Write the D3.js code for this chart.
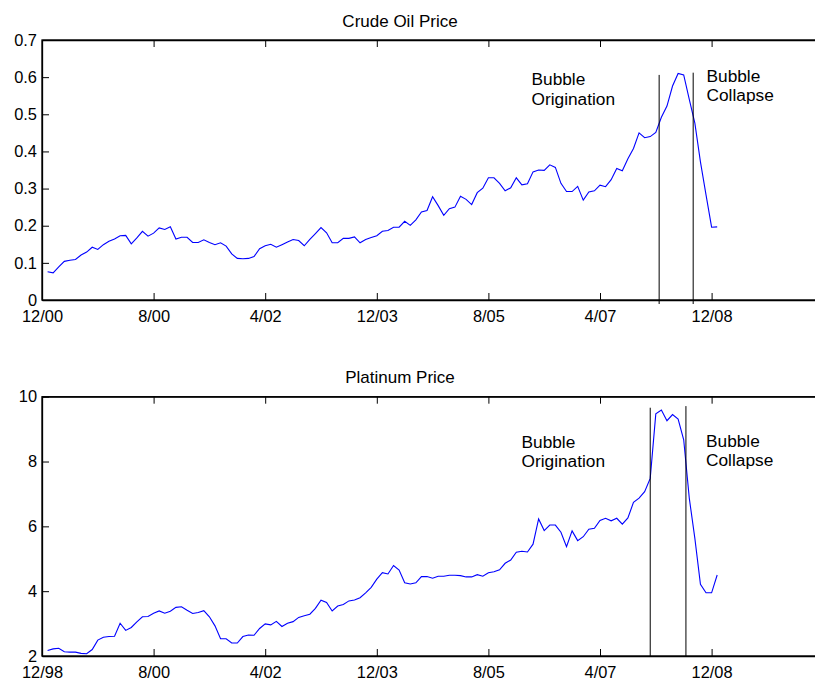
<!DOCTYPE html>
<html>
<head>
<meta charset="utf-8">
<script src="https://cdn.jsdelivr.net/npm/d3@7"></script>
<style>
  html, body { margin: 0; padding: 0; background: #fff; }
  svg { display: block; font-family: "Liberation Sans", Arial, Helvetica, sans-serif; }
</style>
</head>
<body>
<svg id="chart" width="815" height="680"></svg>
<script>
// ---- data (monthly, index 0 = first tick month) ----
const months = d3.range(1, 122); // months 1..121 after first tick

const oilValues = [
  0.076, 0.073, 0.089, 0.104, 0.107, 0.109, 0.121, 0.129, 0.142, 0.136,
  0.149, 0.158, 0.164, 0.173, 0.174, 0.151, 0.167, 0.185, 0.172, 0.180,
  0.194, 0.190, 0.197, 0.164, 0.169, 0.169, 0.155, 0.155, 0.162, 0.155,
  0.149, 0.154, 0.145, 0.124, 0.112, 0.111, 0.112, 0.117, 0.138, 0.146,
  0.150, 0.142, 0.149, 0.156, 0.163, 0.160, 0.146, 0.163, 0.179, 0.195,
  0.181, 0.154, 0.154, 0.166, 0.166, 0.170, 0.154, 0.163, 0.168, 0.173,
  0.185, 0.187, 0.196, 0.196, 0.212, 0.201, 0.216, 0.237, 0.241, 0.278,
  0.254, 0.228, 0.246, 0.250, 0.279, 0.271, 0.257, 0.289, 0.301, 0.329,
  0.329, 0.314, 0.294, 0.302, 0.329, 0.310, 0.313, 0.345, 0.350, 0.349,
  0.364, 0.357, 0.314, 0.292, 0.292, 0.306, 0.269, 0.291, 0.294, 0.309,
  0.305, 0.324, 0.354, 0.348, 0.380, 0.408, 0.450, 0.437, 0.440, 0.451,
  0.492, 0.522, 0.576, 0.610, 0.606, 0.540, 0.476, 0.372, 0.283, 0.196,
  0.197
];

const platinumValues = [
  2.17, 2.22, 2.24, 2.13, 2.12, 2.12, 2.08, 2.07, 2.20, 2.49,
  2.58, 2.60, 2.61, 3.01, 2.79, 2.88, 3.05, 3.21, 3.22, 3.32,
  3.39, 3.32, 3.38, 3.50, 3.52, 3.41, 3.31, 3.34, 3.40, 3.21,
  2.93, 2.53, 2.53, 2.40, 2.40, 2.60, 2.65, 2.64, 2.85, 2.99,
  2.96, 3.07, 2.91, 3.01, 3.06, 3.19, 3.24, 3.29, 3.47, 3.72,
  3.65, 3.39, 3.54, 3.59, 3.70, 3.73, 3.80, 3.95, 4.12, 4.37,
  4.57, 4.53, 4.79, 4.65, 4.26, 4.22, 4.26, 4.45, 4.45, 4.40,
  4.46, 4.46, 4.49, 4.49, 4.48, 4.44, 4.44, 4.51, 4.46, 4.57,
  4.60, 4.66, 4.86, 4.96, 5.20, 5.23, 5.21, 5.45, 6.23, 5.87,
  6.04, 6.04, 5.82, 5.37, 5.86, 5.56, 5.68, 5.91, 5.94, 6.18,
  6.25, 6.17, 6.25, 6.07, 6.26, 6.74, 6.87, 7.07, 7.48, 9.47,
  9.59, 9.26, 9.45, 9.31, 8.67, 6.87, 5.63, 4.21, 3.95, 3.95,
  4.50
];

const tickMonths = [0, 20, 40, 60, 80, 100, 120];
const oilTickLabels = ["12/00", "8/00", "4/02", "12/03", "8/05", "4/07", "12/08"];
const platTickLabels = ["12/98", "8/00", "4/02", "12/03", "8/05", "4/07", "12/08"];

const oilYTicks = [0, 0.1, 0.2, 0.3, 0.4, 0.5, 0.6, 0.7];
const platYTicks = [2, 4, 6, 8, 10];

// bubble markers: [month position, top value]
const oilBubbleOrigin = [110.6, 0.606];
const oilBubbleCollapse = [116.7, 0.612];
const platBubbleOrigin = [109.0, 9.66];
const platBubbleCollapse = [115.4, 9.71];

// ---- drawing ----
const svg = d3.select("#chart");
const left = 42, right = 823.2;

function panel(cfg) {
  const x = d3.scaleLinear().domain([0, 140]).range([left, right]);
  const y = d3.scaleLinear().domain(cfg.yDomain).range([cfg.bottom, cfg.top]);
  const g = svg.append("g");

  // title
  g.append("text")
    .attr("x", 400).attr("y", cfg.titleY)
    .attr("text-anchor", "middle")
    .attr("font-size", 17)
    .attr("fill", "#000")
    .text(cfg.title);

  // frame
  g.append("rect")
    .attr("x", left).attr("y", cfg.top)
    .attr("width", right - left).attr("height", cfg.bottom - cfg.top)
    .attr("fill", "none").attr("stroke", "#000").attr("stroke-width", 1.3);

  // bottom axis (ticks inward)
  const xb = g.append("g")
    .attr("transform", `translate(0,${cfg.bottom})`)
    .call(d3.axisBottom(x).tickValues(tickMonths)
      .tickFormat((d, i) => cfg.xLabels[i])
      .tickSizeInner(-7).tickSizeOuter(0).tickPadding(10.5));
  // top axis ticks inward
  const xt = g.append("g")
    .attr("transform", `translate(0,${cfg.top})`)
    .call(d3.axisTop(x).tickValues(tickMonths).tickFormat("")
      .tickSizeInner(-7).tickSizeOuter(0));
  // left axis
  const yl = g.append("g")
    .attr("transform", `translate(${left},0)`)
    .call(d3.axisLeft(y).tickValues(cfg.yTicks)
      .tickFormat(d3.format("~g"))
      .tickSizeInner(-7).tickSizeOuter(0).tickPadding(5));

  [xb, xt, yl].forEach(a => {
    a.select(".domain").attr("stroke", "#000").attr("stroke-width", 1.3);
    a.selectAll(".tick line").attr("stroke", "#000");
    a.selectAll(".tick text").attr("fill", "#000").attr("font-size", 16.4)
      .attr("font-family", "'Liberation Sans', Arial, Helvetica, sans-serif");
  });

  // data line
  const line = d3.line().x((d, i) => x(months[i])).y(d => y(d));
  g.append("path")
    .datum(cfg.values)
    .attr("fill", "none")
    .attr("stroke", "#0000ff")
    .attr("stroke-width", 1.1)
    .attr("d", line);

  // bubble lines
  [cfg.origin, cfg.collapse].forEach(b => {
    g.append("line")
      .attr("x1", x(b[0])).attr("x2", x(b[0]))
      .attr("y1", y(b[1])).attr("y2", cfg.bottom + cfg.lineExt)
      .attr("stroke", "#000").attr("stroke-width", 1);
  });

  // annotations
  const ann = (tx, ty, lines) => {
    const t = g.append("text").attr("font-size", 17.3).attr("fill", "#000");
    lines.forEach((s, i) => {
      t.append("tspan").attr("x", tx).attr("y", ty + i * 19.5).text(s);
    });
  };
  ann(cfg.origTextX, cfg.origTextY, ["Bubble", "Origination"]);
  ann(cfg.collTextX, cfg.collTextY, ["Bubble", "Collapse"]);
}

panel({
  title: "Crude Oil Price", titleY: 26.5,
  top: 40, bottom: 300, yDomain: [0, 0.7], yTicks: oilYTicks,
  xLabels: oilTickLabels, values: oilValues,
  origin: oilBubbleOrigin, collapse: oilBubbleCollapse, lineExt: 4,
  origTextX: 531.5, origTextY: 85, collTextX: 706.5, collTextY: 81.5
});

panel({
  title: "Platinum Price", titleY: 383,
  top: 396.7, bottom: 656, yDomain: [2, 10], yTicks: platYTicks,
  xLabels: platTickLabels, values: platinumValues,
  origin: platBubbleOrigin, collapse: platBubbleCollapse, lineExt: 0,
  origTextX: 521.5, origTextY: 447.5, collTextX: 706, collTextY: 446.5
});
</script>
</body>
</html>
